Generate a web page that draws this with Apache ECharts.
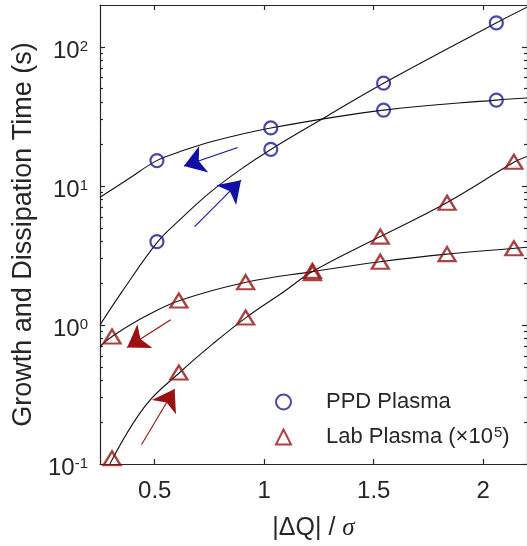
<!DOCTYPE html>
<html><head><meta charset="utf-8">
<script src="https://cdn.jsdelivr.net/npm/echarts@6/dist/echarts.min.js"></script>
<style>html,body{margin:0;padding:0;background:#fff}#c{width:527px;height:546px}</style>
</head><body><div id="c"></div>
<script>
// ---- data ----
const xPPD = [0.51, 1.03, 1.545, 2.06];
const ppdGrowth = [3.97, 18.3, 54.8, 148.6];
const ppdDiss = [15.2, 26.1, 35.1, 41.4];

const xLab = [0.305, 0.61, 0.915, 1.22, 1.53, 1.835, 2.14];
const labGrowth = [0.11, 0.455, 1.13, 2.36, 4.32, 7.57, 14.9];
const labDiss = [0.826, 1.50, 2.03, 2.45, 2.85, 3.23, 3.56];

// fitted curves
const fitPPDDissX = [0.25, 0.379, 0.509, 0.614, 0.758, 1.03, 1.545, 2.059, 2.2];
const fitPPDDissY = [8.28, 11.2, 15.2, 17.6, 20.8, 26.1, 35.1, 41.4, 42.9];
const fitPPDGrowX = [0.25, 0.35, 0.514, 0.614, 0.75, 0.894, 1.03, 1.29, 1.545, 2.059, 2.2];
const fitPPDGrowY = [1.0, 1.73, 3.97, 5.69, 8.9, 13.2, 18.3, 32, 54.8, 148.6, 193];
const fitLabDissX = [0.25, 0.305, 0.455, 0.614, 0.917, 1.22, 1.53, 1.833, 2.144, 2.2];
const fitLabDissY = [0.70, 0.826, 1.149, 1.50, 2.03, 2.42, 2.85, 3.23, 3.56, 3.62];
const fitLabGrowX = [0.295, 0.455, 0.614, 0.765, 0.917, 1.091, 1.22, 1.53, 1.833, 2.144, 2.2];
const fitLabGrowY = [0.1, 0.26, 0.455, 0.731, 1.13, 1.74, 2.42, 4.32, 7.57, 14.9, 16.3];

// annotation arrows: [tail, tip] in data coordinates
const arrowsBlue = [[[0.879, 18.9], [0.633, 13.9]], [[0.682, 5.09], [0.894, 11.0]]];
const arrowsRed = [[[0.573, 1.09], [0.374, 0.689]], [[0.44, 0.138], [0.591, 0.346]]];

// ticks
const xTicks = [0.5, 1, 1.5, 2];
const yMajorTicks = [0.1, 1, 10, 100];
const yMinorTicks = [0.2,0.3,0.4,0.5,0.6,0.7,0.8,0.9,2,3,4,5,6,7,8,9,20,30,40,50,60,70,80,90];

const seriesNames = ['PPD Plasma', 'Lab Plasma'];

// ---- chart ----
const FONT = 'Liberation Sans';
const TXT = '#262626';
const BLUE = '#1c1c94';
const RED = '#941414';
const ABLUE = '#1010a6';
const ARED = '#9b1010';
const zip = (xs, ys) => xs.map((x, i) => [x, ys[i]]);

const chart = echarts.init(document.getElementById('c'), null, {renderer: 'canvas'});

const xMin = 0.25, xMax = 2.2, yMin = 0.1, yMax = 200;
const axisLineStyle = {color: TXT, width: 1.2};

function yAxisDef(pos, ticks, len, showLine, showLabel) {
  return {
    type: 'log', logBase: 10, min: yMin, max: yMax, position: pos,
    axisLine: {show: showLine, lineStyle: axisLineStyle},
    axisTick: {show: true, inside: true, length: len, customValues: ticks, lineStyle: axisLineStyle},
    splitLine: {show: false},
    axisLabel: showLabel ? {
      show: true, customValues: ticks, margin: 12, padding: [9, 0, 0, 0],
      formatter: v => '{b|10}{s|' + Math.round(Math.log10(v)) + '}',
      rich: {
        b: {fontSize: 24, fontFamily: FONT, color: TXT},
        s: {fontSize: 15, fontFamily: FONT, color: TXT, verticalAlign: 'top'}
      }
    } : {show: false}
  };
}

const fitLine = (name, xs, ys) => ({
  name, type: 'line', data: zip(xs, ys), symbol: 'none', smooth: 0.4,
  lineStyle: {color: '#111', width: 1.1}, z: 2, silent: true
});

const arrowSeries = (name, arrs, color) => ({
  name, type: 'lines', coordinateSystem: 'cartesian2d', z: 4, silent: true,
  symbol: ['none', 'arrow'], symbolSize: [13, 21], symbolOffset: [0, '50%'],
  lineStyle: {color, width: 1.1, opacity: 1},
  itemStyle: {color},
  data: arrs.map(a => ({coords: a}))
});

chart.setOption({
  animation: false,
  backgroundColor: '#fff',
  grid: {left: 100, right: -2, top: 5, bottom: 82},
  xAxis: [{
    type: 'value', min: xMin, max: xMax, position: 'bottom',
    name: '|ΔQ| / {i|σ}', nameLocation: 'middle', nameGap: 52,
    nameTextStyle: {fontSize: 25, fontFamily: FONT, color: TXT,
      rich: {i: {fontSize: 25, fontStyle: 'italic', fontFamily: 'Liberation Serif', color: TXT}}},
    axisLine: {show: true, lineStyle: axisLineStyle},
    axisTick: {show: true, inside: true, length: 5, customValues: xTicks, lineStyle: axisLineStyle},
    axisLabel: {show: true, customValues: xTicks, margin: 15, fontSize: 24, fontFamily: FONT, color: TXT,
      formatter: v => String(v)},
    splitLine: {show: false}
  }, {
    type: 'value', min: xMin, max: xMax, position: 'top',
    axisLine: {show: true, lineStyle: axisLineStyle},
    axisTick: {show: true, inside: true, length: 5, customValues: xTicks, lineStyle: axisLineStyle},
    axisLabel: {show: false}, splitLine: {show: false}
  }],
  yAxis: [
    Object.assign(yAxisDef('left', yMajorTicks, 5, true, true), {
      name: 'Growth and Dissipation Time (s)', nameLocation: 'middle', nameGap: 60,
      nameTextStyle: {fontSize: 27, fontFamily: FONT, color: TXT}
    }),
    yAxisDef('left', yMinorTicks, 3, false, false),
    yAxisDef('right', yMajorTicks, 5, true, false),
    yAxisDef('right', yMinorTicks, 3, false, false)
  ],
  legend: {
    show: true, orient: 'vertical', left: 275, top: 390, padding: 0,
    itemWidth: 15, itemHeight: 15, itemGap: 11,
    data: seriesNames,
    formatter: n => n === 'Lab Plasma' ? 'Lab Plasma (×10{s|5})' : n,
    textStyle: {fontSize: 22, fontFamily: FONT, color: TXT, lineHeight: 24, padding: [0, 0, 0, 30],
      rich: {s: {fontSize: 15, fontFamily: FONT, color: TXT, verticalAlign: 'top', padding: [0, 0, 4, 1]}}}
  },
  series: [
    fitLine('fit1', fitPPDDissX, fitPPDDissY),
    fitLine('fit2', fitPPDGrowX, fitPPDGrowY),
    fitLine('fit3', fitLabDissX, fitLabDissY),
    fitLine('fit4', fitLabGrowX, fitLabGrowY),
    {name: 'PPD Plasma', type: 'scatter', data: zip(xPPD, ppdDiss), symbol: 'circle', symbolSize: 13, z: 3,
      itemStyle: {color: 'rgba(255,255,255,0)', borderColor: BLUE, borderWidth: 2.2}},
    {name: 'PPD Plasma', type: 'scatter', data: zip(xPPD, ppdGrowth), symbol: 'circle', symbolSize: 13, z: 3,
      itemStyle: {color: 'rgba(255,255,255,0)', borderColor: BLUE, borderWidth: 2.2}},
    {name: 'Lab Plasma', type: 'scatter', data: zip(xLab, labDiss), symbol: 'triangle', symbolSize: [17, 14], z: 3,
      itemStyle: {color: 'rgba(255,255,255,0)', borderColor: RED, borderWidth: 2.3}},
    {name: 'Lab Plasma', type: 'scatter', data: zip(xLab, labGrowth), symbol: 'triangle', symbolSize: [17, 14], z: 3,
      itemStyle: {color: 'rgba(255,255,255,0)', borderColor: RED, borderWidth: 2.3}},
    arrowSeries('arrowsBlue', arrowsBlue, ABLUE),
    arrowSeries('arrowsRed', arrowsRed, ARED)
  ]
});
</script>
</body></html>
